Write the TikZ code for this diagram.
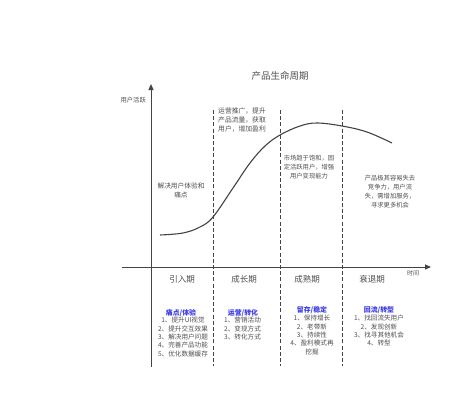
\documentclass[tikz,border=0pt]{standalone}
\usepackage{fontspec}
\setmainfont{Noto Sans CJK SC}
\usetikzlibrary{arrows.meta}
\definecolor{axisc}{HTML}{444444}
\definecolor{txtc}{HTML}{505050}
\definecolor{headc}{HTML}{3C3CE6}
\tikzset{
  axisline/.style={draw=axisc, line width=1pt},
  divline/.style={draw=axisc, line width=0.9pt, dash pattern=on 4pt off 2.2pt},
  desc/.style={text=txtc, font=\fontsize{6.3}{8.8}\selectfont, inner sep=0pt, align=center},
  phase/.style={text=txtc, font=\fontsize{8.5}{10}\selectfont, inner sep=0pt},
  heading/.style={text=headc, font=\fontsize{6.9}{8}\selectfont\bfseries, inner sep=0pt},
  items/.style={text=txtc, font=\fontsize{6.6}{8.4}\selectfont, inner sep=0pt, align=center},
}
\begin{document}
\begin{tikzpicture}[x=1pt,y=-1pt]
\useasboundingbox[fill=white] (0,0) rectangle (464,400);
% title
\node[text=txtc, font=\fontsize{9.5}{11}\selectfont, inner sep=0pt] (title) at (280,76) {产品生命周期};
% axes
\coordinate (ybot) at (151,367);
\coordinate (ytop) at (151,84);
\coordinate (xl) at (122,267);
\coordinate (xr) at (431,267);
\draw[axisline, -{Triangle[length=6pt,width=5pt]}] (ybot) -- (ytop);
\draw[axisline, -{Triangle[length=6pt,width=5pt]}] (xl) -- (xr);
\node[text=txtc, font=\fontsize{6.3}{7}\selectfont, inner sep=0pt, anchor=east] (ylab) at (146,100) {用户活跃};
\node[text=txtc, font=\fontsize{6}{7}\selectfont, inner sep=0pt] (xlab) at (413,273) {时间};
% dividers
\foreach \n/\x in {d1/213, d2/280, d3/342}{
  \coordinate (\n t) at (\x,110);
  \coordinate (\n b) at (\x,366);
  \draw[divline] (\n t) -- (\n b);
}
% curve
\draw[draw=axisc, line width=1.1pt] plot[smooth, tension=0.6] coordinates {
 (160,235) (183,233) (200,227) (213,217) (233,188) (250,163) (265,146) (280,135) (300,126) (317,123) (342,126) (367,132) (392,143)};
% descriptions
\node[desc, font=\fontsize{6.7}{9}\selectfont] (dintro) at (181,190) {解决用户体验和\\痛点};
\node[desc, align=left, anchor=north west, font=\fontsize{6.8}{9}\selectfont] (dgrow) at (218,108) {运营推广，提升\\产品流量，获取\\用户，增加盈利};
\node[desc] (dmat) at (309,167) {市场趋于饱和，固\\定活跃用户，增强\\用户变现能力};
\node[desc] (ddec) at (390,191.5) {产品极其容易失去\\竞争力，用户流\\失，需增加服务，\\寻求更多机会};
% phases
\node[phase] (p1) at (182,279) {引入期};
\node[phase] (p2) at (244,279) {成长期};
\node[phase] (p3) at (307,279) {成熟期};
\node[phase] (p4) at (372,279) {衰退期};
% headings
\node[heading] (h1) at (181,313) {痛点/体验};
\node[heading] (h2) at (243,313) {运营/转化};
\node[heading] (h3) at (312,310) {留存/稳定};
\node[heading] (h4) at (379,310) {回流/转型};
% item lists
\node[items, anchor=north] (l1) at (183,317) {1、提升UI视觉\\2、提升交互效果\\3、解决用户问题\\4、完善产品功能\\5、优化数据缓存};
\node[items, align=left, anchor=north west] (l2) at (224,317) {1、营销活动\\2、变现方式\\3、转化方式};
\node[items, anchor=north] (l3) at (312,315) {1、保持增长\\2、老带新\\3、持续性\\4、盈利模式再\\挖掘};
\node[items, anchor=north] (l4) at (379,315) {1、找回流失用户\\2、发现创新\\3、找寻其他机会\\4、转型};
\end{tikzpicture}
\end{document}
